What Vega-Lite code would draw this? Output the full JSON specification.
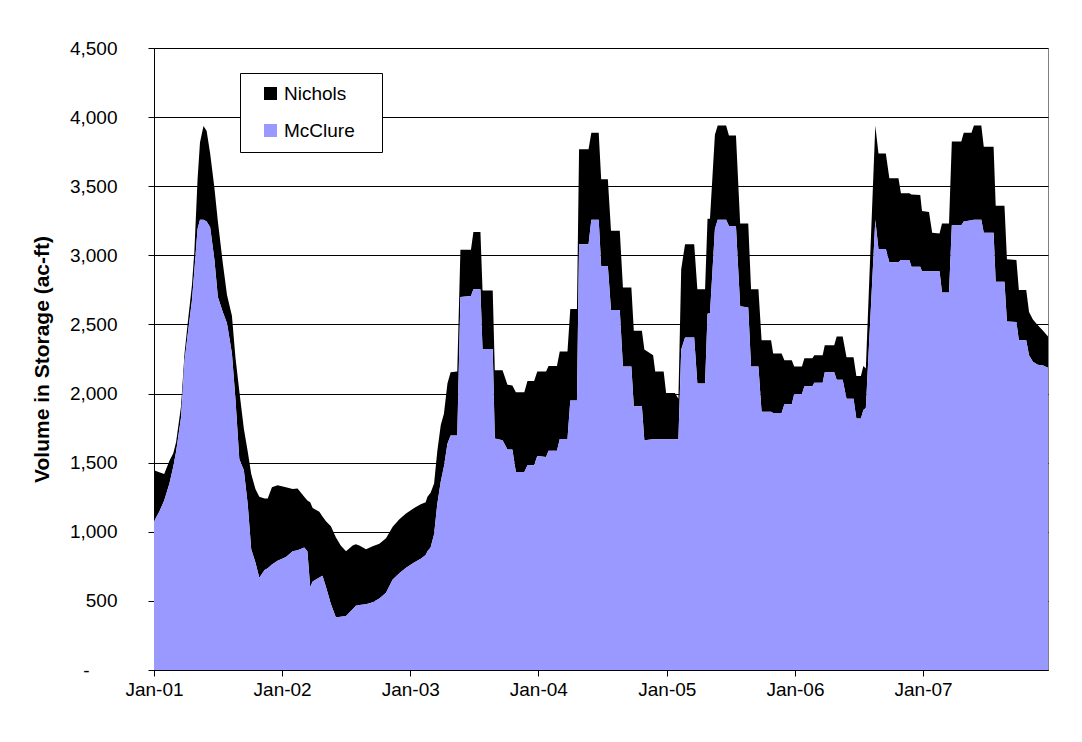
{
  "$schema": "https://vega.github.io/schema/vega-lite/v6.json",
  "width": 894,
  "height": 622,
  "autosize": {"type": "none"},
  "padding": {"left": 154, "top": 48, "right": 34, "bottom": 72},
  "background": "white",
  "data": {"values": [
    {"date":"2001-01-01","McClure":1077,"Nichols":368},
    {"date":"2001-01-16","McClure":1145,"Nichols":286},
    {"date":"2001-01-30","McClure":1227,"Nichols":191},
    {"date":"2001-02-14","McClure":1350,"Nichols":163},
    {"date":"2001-02-25","McClure":1472,"Nichols":96},
    {"date":"2001-03-05","McClure":1581,"Nichols":69},
    {"date":"2001-03-19","McClure":1827,"Nichols":82},
    {"date":"2001-03-29","McClure":2236,"Nichols":54},
    {"date":"2001-04-07","McClure":2427,"Nichols":81},
    {"date":"2001-04-19","McClure":2672,"Nichols":109},
    {"date":"2001-04-26","McClure":2890,"Nichols":136},
    {"date":"2001-05-05","McClure":3190,"Nichols":355},
    {"date":"2001-05-12","McClure":3258,"Nichols":559},
    {"date":"2001-05-22","McClure":3258,"Nichols":677},
    {"date":"2001-05-31","McClure":3245,"Nichols":654},
    {"date":"2001-06-10","McClure":3204,"Nichols":532},
    {"date":"2001-06-22","McClure":2972,"Nichols":518},
    {"date":"2001-07-02","McClure":2699,"Nichols":546},
    {"date":"2001-07-16","McClure":2590,"Nichols":355},
    {"date":"2001-07-28","McClure":2508,"Nichols":205},
    {"date":"2001-08-11","McClure":2290,"Nichols":273},
    {"date":"2001-08-21","McClure":1963,"Nichols":300},
    {"date":"2001-09-01","McClure":1527,"Nichols":491},
    {"date":"2001-09-14","McClure":1445,"Nichols":300},
    {"date":"2001-09-25","McClure":1200,"Nichols":381},
    {"date":"2001-10-05","McClure":873,"Nichols":545},
    {"date":"2001-10-17","McClure":777,"Nichols":532},
    {"date":"2001-10-28","McClure":668,"Nichols":586},
    {"date":"2001-11-12","McClure":723,"Nichols":518},
    {"date":"2001-11-21","McClure":736,"Nichols":505},
    {"date":"2001-12-03","McClure":763,"Nichols":559},
    {"date":"2001-12-19","McClure":791,"Nichols":545},
    {"date":"2002-01-12","McClure":818,"Nichols":504},
    {"date":"2002-01-31","McClure":859,"Nichols":450},
    {"date":"2002-02-14","McClure":867,"Nichols":447},
    {"date":"2002-03-05","McClure":886,"Nichols":368},
    {"date":"2002-03-14","McClure":860,"Nichols":367},
    {"date":"2002-03-22","McClure":600,"Nichols":613},
    {"date":"2002-03-29","McClure":640,"Nichols":532},
    {"date":"2002-04-17","McClure":670,"Nichols":475},
    {"date":"2002-04-26","McClure":682,"Nichols":428},
    {"date":"2002-05-06","McClure":600,"Nichols":477},
    {"date":"2002-05-20","McClure":477,"Nichols":563},
    {"date":"2002-06-03","McClure":382,"Nichols":578},
    {"date":"2002-06-17","McClure":385,"Nichols":515},
    {"date":"2002-07-02","McClure":390,"Nichols":469},
    {"date":"2002-07-21","McClure":440,"Nichols":460},
    {"date":"2002-07-30","McClure":464,"Nichols":446},
    {"date":"2002-08-09","McClure":470,"Nichols":430},
    {"date":"2002-08-28","McClure":475,"Nichols":398},
    {"date":"2002-09-16","McClure":490,"Nichols":405},
    {"date":"2002-10-05","McClure":518,"Nichols":395},
    {"date":"2002-10-24","McClure":559,"Nichols":395},
    {"date":"2002-11-12","McClure":654,"Nichols":382},
    {"date":"2002-12-01","McClure":700,"Nichols":391},
    {"date":"2002-12-20","McClure":740,"Nichols":392},
    {"date":"2003-01-12","McClure":777,"Nichols":395},
    {"date":"2003-01-31","McClure":804,"Nichols":396},
    {"date":"2003-02-14","McClure":832,"Nichols":381},
    {"date":"2003-02-19","McClure":859,"Nichols":395},
    {"date":"2003-02-28","McClure":886,"Nichols":396},
    {"date":"2003-03-10","McClure":982,"Nichols":368},
    {"date":"2003-03-19","McClure":1200,"Nichols":381},
    {"date":"2003-03-29","McClure":1363,"Nichols":409},
    {"date":"2003-04-07","McClure":1472,"Nichols":382},
    {"date":"2003-04-17","McClure":1636,"Nichols":436},
    {"date":"2003-04-26","McClure":1696,"Nichols":458},
    {"date":"2003-05-15","McClure":1696,"Nichols":464},
    {"date":"2003-05-24","McClure":2699,"Nichols":341},
    {"date":"2003-06-23","McClure":2705,"Nichols":335},
    {"date":"2003-06-30","McClure":2754,"Nichols":414},
    {"date":"2003-07-20","McClure":2754,"Nichols":414},
    {"date":"2003-07-26","McClure":2323,"Nichols":423},
    {"date":"2003-08-24","McClure":2323,"Nichols":423},
    {"date":"2003-08-30","McClure":1674,"Nichols":494},
    {"date":"2003-09-21","McClure":1663,"Nichols":505},
    {"date":"2003-10-05","McClure":1595,"Nichols":469},
    {"date":"2003-10-19","McClure":1595,"Nichols":464},
    {"date":"2003-10-29","McClure":1432,"Nichols":578},
    {"date":"2003-11-22","McClure":1432,"Nichols":578},
    {"date":"2003-12-01","McClure":1481,"Nichols":610},
    {"date":"2003-12-20","McClure":1481,"Nichols":610},
    {"date":"2003-12-29","McClure":1549,"Nichols":611},
    {"date":"2004-01-23","McClure":1541,"Nichols":619},
    {"date":"2004-01-30","McClure":1587,"Nichols":613},
    {"date":"2004-02-23","McClure":1587,"Nichols":613},
    {"date":"2004-03-02","McClure":1672,"Nichols":632},
    {"date":"2004-03-24","McClure":1672,"Nichols":632},
    {"date":"2004-04-01","McClure":1950,"Nichols":662},
    {"date":"2004-04-20","McClure":1950,"Nichols":662},
    {"date":"2004-04-26","McClure":3081,"Nichols":687},
    {"date":"2004-05-23","McClure":3081,"Nichols":687},
    {"date":"2004-05-31","McClure":3258,"Nichols":628},
    {"date":"2004-06-21","McClure":3258,"Nichols":628},
    {"date":"2004-06-28","McClure":2923,"Nichols":627},
    {"date":"2004-07-17","McClure":2923,"Nichols":627},
    {"date":"2004-07-26","McClure":2604,"Nichols":573},
    {"date":"2004-08-20","McClure":2604,"Nichols":573},
    {"date":"2004-08-29","McClure":2195,"Nichols":573},
    {"date":"2004-09-22","McClure":2195,"Nichols":573},
    {"date":"2004-09-29","McClure":1909,"Nichols":545},
    {"date":"2004-10-22","McClure":1909,"Nichols":545},
    {"date":"2004-10-29","McClure":1663,"Nichols":655},
    {"date":"2004-11-23","McClure":1669,"Nichols":608},
    {"date":"2004-11-29","McClure":1669,"Nichols":491},
    {"date":"2004-12-23","McClure":1669,"Nichols":491},
    {"date":"2004-12-30","McClure":1669,"Nichols":335},
    {"date":"2005-01-24","McClure":1669,"Nichols":335},
    {"date":"2005-02-03","McClure":1669,"Nichols":294},
    {"date":"2005-02-11","McClure":2318,"Nichols":582},
    {"date":"2005-02-22","McClure":2405,"Nichols":676},
    {"date":"2005-03-20","McClure":2405,"Nichols":676},
    {"date":"2005-03-29","McClure":2072,"Nichols":682},
    {"date":"2005-04-20","McClure":2072,"Nichols":682},
    {"date":"2005-04-27","McClure":2577,"Nichols":687},
    {"date":"2005-05-04","McClure":2582,"Nichols":682},
    {"date":"2005-05-18","McClure":3190,"Nichols":682},
    {"date":"2005-05-26","McClure":3258,"Nichols":682},
    {"date":"2005-06-19","McClure":3258,"Nichols":682},
    {"date":"2005-06-27","McClure":3212,"Nichols":655},
    {"date":"2005-07-17","McClure":3212,"Nichols":655},
    {"date":"2005-07-29","McClure":2631,"Nichols":600},
    {"date":"2005-08-21","McClure":2623,"Nichols":608},
    {"date":"2005-08-29","McClure":2195,"Nichols":559},
    {"date":"2005-09-19","McClure":2195,"Nichols":559},
    {"date":"2005-09-28","McClure":1868,"Nichols":518},
    {"date":"2005-10-25","McClure":1868,"Nichols":518},
    {"date":"2005-10-31","McClure":1860,"Nichols":430},
    {"date":"2005-11-24","McClure":1860,"Nichols":430},
    {"date":"2005-12-02","McClure":1922,"Nichols":319},
    {"date":"2005-12-23","McClure":1922,"Nichols":319},
    {"date":"2005-12-30","McClure":1996,"Nichols":199},
    {"date":"2006-01-21","McClure":1996,"Nichols":199},
    {"date":"2006-01-28","McClure":2053,"Nichols":202},
    {"date":"2006-02-20","McClure":2053,"Nichols":202},
    {"date":"2006-02-25","McClure":2078,"Nichols":199},
    {"date":"2006-03-21","McClure":2078,"Nichols":199},
    {"date":"2006-03-27","McClure":2154,"Nichols":196},
    {"date":"2006-04-23","McClure":2154,"Nichols":196},
    {"date":"2006-04-30","McClure":2100,"Nichols":313},
    {"date":"2006-05-17","McClure":2100,"Nichols":313},
    {"date":"2006-05-28","McClure":1963,"Nichols":300},
    {"date":"2006-06-17","McClure":1963,"Nichols":300},
    {"date":"2006-06-25","McClure":1819,"Nichols":308},
    {"date":"2006-07-08","McClure":1819,"Nichols":308},
    {"date":"2006-07-15","McClure":1881,"Nichols":319},
    {"date":"2006-07-22","McClure":1895,"Nichols":286},
    {"date":"2006-08-18","McClure":3258,"Nichols":682},
    {"date":"2006-08-27","McClure":3046,"Nichols":690},
    {"date":"2006-09-17","McClure":3046,"Nichols":690},
    {"date":"2006-09-27","McClure":2950,"Nichols":608},
    {"date":"2006-10-23","McClure":2950,"Nichols":608},
    {"date":"2006-10-30","McClure":2967,"Nichols":482},
    {"date":"2006-11-23","McClure":2967,"Nichols":482},
    {"date":"2006-11-29","McClure":2918,"Nichols":523},
    {"date":"2006-12-24","McClure":2918,"Nichols":518},
    {"date":"2006-12-29","McClure":2885,"Nichols":435},
    {"date":"2007-01-18","McClure":2885,"Nichols":428},
    {"date":"2007-01-27","McClure":2885,"Nichols":278},
    {"date":"2007-02-17","McClure":2885,"Nichols":273},
    {"date":"2007-02-24","McClure":2732,"Nichols":499},
    {"date":"2007-03-16","McClure":2732,"Nichols":499},
    {"date":"2007-03-24","McClure":3217,"Nichols":606},
    {"date":"2007-04-20","McClure":3217,"Nichols":606},
    {"date":"2007-04-27","McClure":3245,"Nichols":641},
    {"date":"2007-05-19","McClure":3253,"Nichols":633},
    {"date":"2007-05-26","McClure":3258,"Nichols":682},
    {"date":"2007-06-16","McClure":3258,"Nichols":682},
    {"date":"2007-06-23","McClure":3163,"Nichols":622},
    {"date":"2007-07-21","McClure":3163,"Nichols":622},
    {"date":"2007-07-27","McClure":2808,"Nichols":551},
    {"date":"2007-08-21","McClure":2808,"Nichols":551},
    {"date":"2007-08-28","McClure":2522,"Nichols":450},
    {"date":"2007-09-24","McClure":2517,"Nichols":450},
    {"date":"2007-10-01","McClure":2386,"Nichols":363},
    {"date":"2007-10-22","McClure":2386,"Nichols":363},
    {"date":"2007-10-30","McClure":2277,"Nichols":313},
    {"date":"2007-11-10","McClure":2230,"Nichols":306},
    {"date":"2007-11-24","McClure":2209,"Nichols":286},
    {"date":"2007-12-09","McClure":2203,"Nichols":251},
    {"date":"2007-12-23","McClure":2187,"Nichols":226}
  ]},
  "transform": [{"fold": ["Nichols", "McClure"], "as": ["reservoir", "volume"]}],
  "mark": {"type": "area", "interpolate": "linear", "opacity": 1},
  "encoding": {
    "x": {
      "field": "date", "type": "temporal",
      "scale": {"type": "utc", "nice": false, "domain": [{"year": 2001, "month": 1, "date": 1, "utc": true}, {"year": 2007, "month": 12, "date": 23, "utc": true}]},
      "axis": {
        "title": null, "format": "%b-%y",
        "tickCount": {"interval": "year", "step": 1},
        "grid": false, "domainColor": "#000000", "tickColor": "#000000",
        "tickSize": 6, "labelPadding": 4, "labelFontSize": 19, "labelColor": "#000000",
        "labelFont": "Liberation Sans", "labelFlush": false, "labelOverlap": false
      }
    },
    "y": {
      "field": "volume", "type": "quantitative", "stack": "zero",
      "scale": {"domain": [0, 4500], "nice": false},
      "axis": {
        "values": [0, 500, 1000, 1500, 2000, 2500, 3000, 3500, 4000, 4500],
        "labelExpr": "datum.value == 0 ? '-' : format(datum.value, ',')",
        "grid": true, "gridColor": "#000000", "gridOpacity": 1, "gridWidth": 1,
        "domainColor": "#000000", "tickColor": "#000000", "tickSize": 6,
        "labelPadding": {"condition": {"test": "datum.value == 0", "value": 59}, "value": 31},
        "labelFontSize": 19, "labelColor": "#000000", "labelFont": "Liberation Sans",
        "title": "Volume in Storage (ac-ft)", "titleFont": "Liberation Sans", "titleFontSize": 21,
        "titleFontWeight": "bold", "titleColor": "#000000",
        "titleX": -112, "titleY": 311, "titleAngle": -90, "titleAlign": "center", "titleBaseline": "middle"
      }
    },
    "color": {
      "field": "reservoir", "type": "nominal",
      "scale": {"domain": ["Nichols", "McClure"], "range": ["#000000", "#9999FF"]},
      "legend": {
        "title": null, "orient": "none", "legendX": 86, "legendY": 25,
        "strokeColor": "#000000", "fillColor": "#FFFFFF", "padding": 11,
        "symbolType": "square", "symbolSize": 169, "symbolStrokeWidth": 0, "symbolOpacity": 1,
        "symbolOffset": 10, "labelOffset": 4, "rowPadding": 17,
        "labelFontSize": 19, "labelFont": "Liberation Sans", "labelColor": "#000000",
        "labelExpr": "datum.label + '\u00a0\u00a0\u00a0\u200b'"
      }
    },
    "order": {"field": "reservoir", "sort": "ascending"}
  },
  "config": {
    "font": "Liberation Sans",
    "view": {"stroke": "#808080", "strokeWidth": 1}
  }
}
